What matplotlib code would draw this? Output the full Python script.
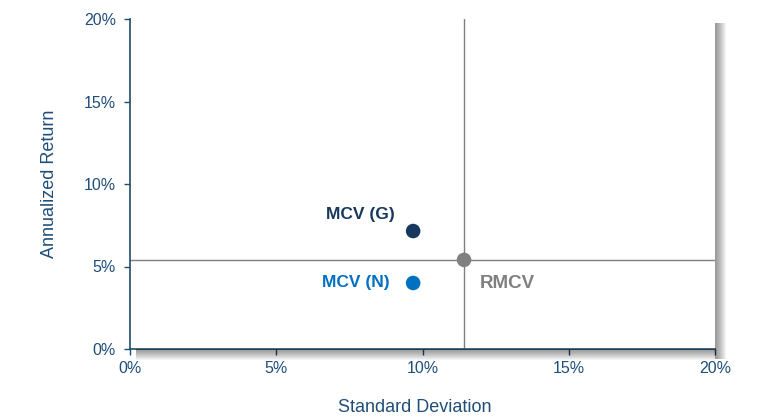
import matplotlib
matplotlib.use("Agg")
import matplotlib.pyplot as plt
import matplotlib.ticker as mticker
from matplotlib.patches import Rectangle

plt.rcParams['font.family'] = ['Liberation Sans', 'DejaVu Sans']

# data (percent)
names = ["MCV (G)", "MCV (N)", "RMCV"]
std_dev = [9.68, 9.68, 11.42]
ann_return = [7.15, 4.0, 5.4]
colors = ["#17375E", "#0070C0", "#7F7F7F"]
x_ticks = [0, 5, 10, 15, 20]
y_ticks = [0, 5, 10, 15, 20]

axis_color = "#1F4E6B"
text_color = "#1F4E79"

fig = plt.figure(figsize=(7.65, 4.17), dpi=100)
ax = fig.add_axes([130 / 765, 68 / 417, 585 / 765, 330 / 417])

# soft drop shadow on right and bottom of plot area
n = 11
for i in range(n):
    w = (n - i)
    fig.patches.append(Rectangle((715 / 765, 58 / 417), w / 765, 336 / 417,
                                 transform=fig.transFigure, facecolor="black", alpha=0.045,
                                 edgecolor="none", zorder=0))
    fig.patches.append(Rectangle((136 / 765, (68 - w) / 417), 579 / 765, w / 417,
                                 transform=fig.transFigure, facecolor="black", alpha=0.045,
                                 edgecolor="none", zorder=0))

# reference cross-hair through the benchmark
ax.axvline(std_dev[2], color="#7F7F7F", lw=1, zorder=1)
ax.axhline(ann_return[2], color="#7F7F7F", lw=1, zorder=1)

ax.scatter(std_dev, ann_return, s=110, c=colors, zorder=3, edgecolors="none")

ax.annotate(names[0], (std_dev[0], ann_return[0]), xytext=(-13, 12), textcoords="offset points",
            ha="right", va="center", color=colors[0], fontsize=12.5, fontweight="bold")
ax.annotate(names[1], (std_dev[1], ann_return[1]), xytext=(-17, 0), textcoords="offset points",
            ha="right", va="center", color=colors[1], fontsize=12.5, fontweight="bold")
ax.annotate(names[2], (std_dev[2], ann_return[2]), xytext=(11, -17), textcoords="offset points",
            ha="left", va="center", color=colors[2], fontsize=13.5, fontweight="bold")

ax.set_xlim(0, 20)
ax.set_ylim(0, 20)
ax.set_xticks(x_ticks)
ax.set_yticks(y_ticks)
ax.xaxis.set_major_formatter(mticker.FuncFormatter(lambda v, p: f"{v:.0f}%"))
ax.yaxis.set_major_formatter(mticker.FuncFormatter(lambda v, p: f"{v:.0f}%"))
ax.tick_params(colors=axis_color, labelcolor=text_color, labelsize=11.5, length=4, width=1)
ax.tick_params(axis="x", pad=4.5)
ax.tick_params(axis="y", pad=6)

for s in ["top", "right"]:
    ax.spines[s].set_visible(False)
for s in ["left", "bottom"]:
    ax.spines[s].set_color(axis_color)
    ax.spines[s].set_linewidth(1.2)

ax.set_xlabel("Standard Deviation", color=text_color, fontsize=13)
ax.set_ylabel("Annualized Return", color=text_color, fontsize=13, labelpad=19)
ax.xaxis.set_label_coords(0.486, -0.153)

fig.savefig("out.png", dpi=100)
